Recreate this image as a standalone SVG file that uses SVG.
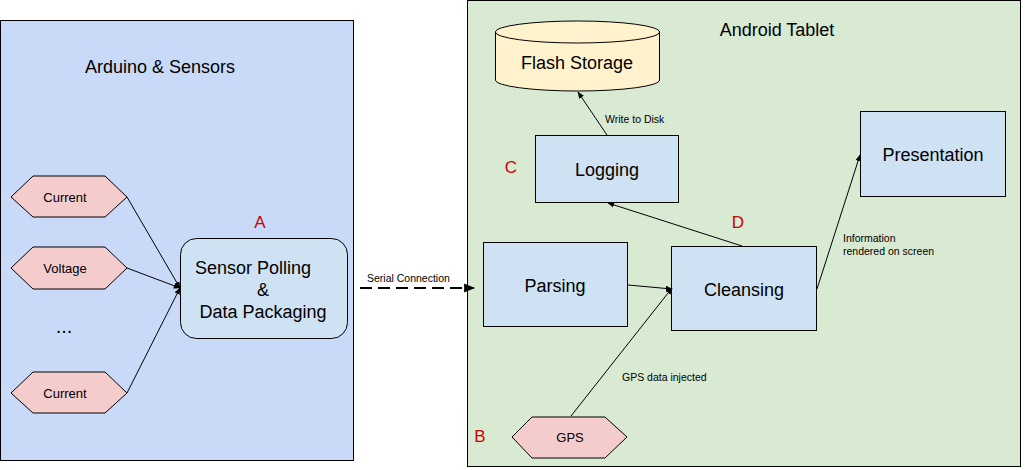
<svg xmlns="http://www.w3.org/2000/svg" width="1025" height="470" viewBox="0 0 1025 470">
<style>
text{font-family:"Liberation Sans",Arial,sans-serif;fill:#000}
.panel{stroke:#000;stroke-width:1}
.box{fill:#cfe2f3;stroke:#000;stroke-width:1}
.hex{fill:#f4cccc;stroke:#000;stroke-width:1}
.big{font-size:18px;text-anchor:middle}
.title{font-size:18px;text-anchor:middle}
.hl{font-size:13px;text-anchor:middle}
.sm{font-size:10.5px}
.red{font-size:17px;fill:#cc0000;text-anchor:middle}
.edge{stroke:#000;stroke-width:1;fill:none;marker-end:url(#ah)}
</style>
<defs>
<marker id="ah" viewBox="0 0 10 10" refX="9" refY="5" markerWidth="7" markerHeight="7" markerUnits="userSpaceOnUse" orient="auto">
<path d="M0,1 L10,5 L0,9 z" fill="#000"/>
</marker>
<marker id="ahb" viewBox="0 0 10 10" refX="9" refY="5" markerWidth="11" markerHeight="11" markerUnits="userSpaceOnUse" orient="auto">
<path d="M0,1 L10,5 L0,9 z" fill="#000"/>
</marker>
</defs>
<rect width="1025" height="470" fill="#fff"/>
<g id="arduino">
<rect class="panel" x="0.5" y="20.5" width="353" height="440" fill="#c9daf8"/>
<text class="title" x="160" y="73">Arduino &amp; Sensors</text>
</g>
<g id="android">
<rect class="panel" x="467.5" y="0.5" width="553" height="466" fill="#d9ead3"/>
<text class="title" x="777" y="36">Android Tablet</text>
</g>
<g id="current1">
<polygon class="hex" points="11,197 33,176 105,176 127,197 105,217 33,217"/>
<text class="hl" x="65" y="202">Current</text>
</g>
<g id="voltage">
<polygon class="hex" points="11,268 33,247 105,247 127,268 105,289 33,289"/>
<text class="hl" x="65" y="273">Voltage</text>
</g>
<g id="dots">
<text class="title" x="64" y="333" style="font-size:20px">...</text>
</g>
<g id="current2">
<polygon class="hex" points="11,393 33,372 105,372 127,393 105,413 33,413"/>
<text class="hl" x="65" y="398">Current</text>
</g>
<g id="sensor">
<rect x="180.5" y="238.5" width="167" height="100" rx="16" fill="#cfe2f3" stroke="#000"/>
<text class="big" x="253" y="274">Sensor Polling</text>
<text class="big" x="263" y="296">&amp;</text>
<text class="big" x="263" y="318">Data Packaging</text>
<text class="red" x="260" y="228">A</text>
</g>
<g id="parsing">
<rect class="box" x="483.5" y="242.5" width="144" height="84"/>
<text class="big" x="555" y="292">Parsing</text>
</g>
<g id="cleansing">
<rect class="box" x="671.5" y="246.5" width="145" height="84"/>
<text class="big" x="744" y="296">Cleansing</text>
<text class="red" x="738" y="228">D</text>
</g>
<g id="logging">
<rect class="box" x="535.5" y="135.5" width="143" height="67"/>
<text class="big" x="607" y="176">Logging</text>
<text class="red" x="511" y="173">C</text>
</g>
<g id="presentation">
<rect class="box" x="860.5" y="111.5" width="145" height="85"/>
<text class="big" x="933" y="161">Presentation</text>
</g>
<g id="flash">
<path d="M495.5,32 L495.5,80 A82,11 0 0 0 659.5,80 L659.5,32" fill="#fff2cc" stroke="#000"/>
<ellipse cx="577.5" cy="32" rx="82" ry="11" fill="#fff2cc" stroke="#000"/>
<text class="big" x="577" y="69">Flash Storage</text>
</g>
<g id="gps">
<polygon class="hex" points="512,437 532,417 605,417 627,437 605,458 532,458"/>
<text class="hl" x="570" y="442">GPS</text>
<text class="red" x="480" y="442">B</text>
</g>
<g id="connectors">
<line class="edge" x1="127" y1="197" x2="180" y2="288"/>
<line class="edge" x1="127" y1="268" x2="180" y2="288"/>
<line class="edge" x1="127" y1="393" x2="180" y2="288"/>
<line x1="360" y1="288" x2="474" y2="288" stroke="#000" stroke-width="2" stroke-dasharray="12,6" marker-end="url(#ahb)"/>
<text class="sm" x="367" y="282">Serial Connection</text>
<line class="edge" x1="628" y1="285" x2="672" y2="289"/>
<line class="edge" x1="571" y1="416" x2="672" y2="288"/>
<text class="sm" x="622" y="381">GPS data injected</text>
<line class="edge" x1="742" y1="246" x2="608" y2="203"/>
<line class="edge" x1="607" y1="135" x2="578" y2="92"/>
<text class="sm" x="605" y="123">Write to Disk</text>
<line class="edge" x1="817" y1="289" x2="860" y2="155"/>
<text class="sm" x="843" y="242">Information</text>
<text class="sm" x="843" y="255">rendered on screen</text>
</g>
</svg>
